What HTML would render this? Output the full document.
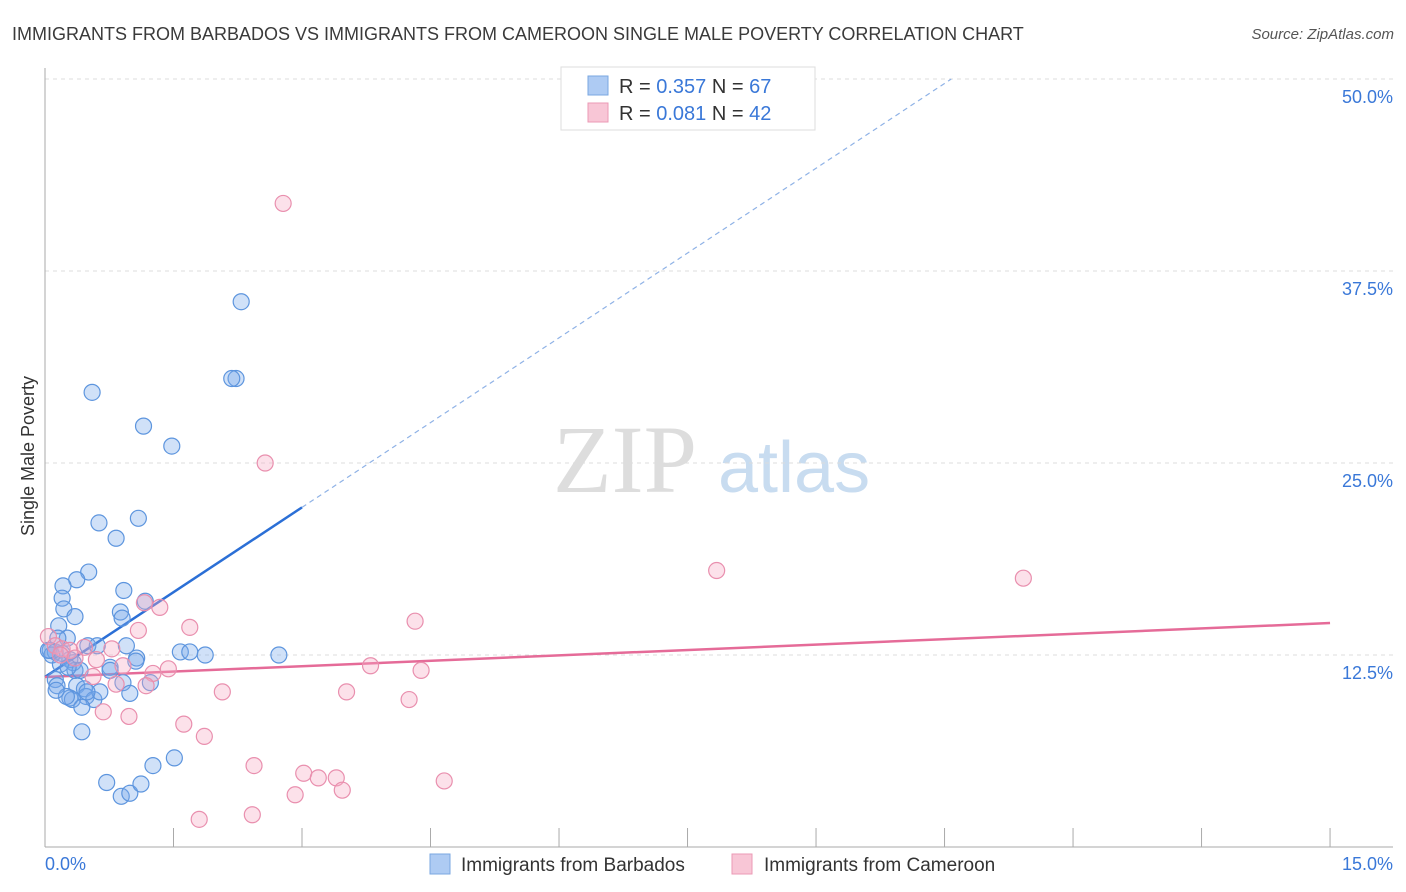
<!DOCTYPE html>
<html><head><meta charset="utf-8"><style>
body{margin:0;background:#fff;font-family:"Liberation Sans",sans-serif;}
svg{display:block}
</style></head><body>
<svg id="chart" width="1406" height="892">
<text x="12" y="40" font-size="18" fill="#3a3a3a">IMMIGRANTS FROM BARBADOS VS IMMIGRANTS FROM CAMEROON SINGLE MALE POVERTY CORRELATION CHART</text>
<text x="1394" y="39" font-size="15" fill="#555" font-style="italic" text-anchor="end">Source: ZipAtlas.com</text>
<text x="34" y="456" font-size="18" fill="#333" text-anchor="middle" transform="rotate(-90 34 456)">Single Male Poverty</text>
<g><text x="553" y="492" font-size="96" fill="#ddd" font-family="Liberation Serif,serif">ZIP</text><text x="718" y="492" font-size="72" fill="#c8dcf0">atlas</text></g>
<g id="grid"></g><g id="axes"></g><g id="lines"></g><g id="pts"></g>
<g>
<rect x="561" y="67" width="254" height="63" fill="#fff" stroke="#ddd"/>
<rect x="588" y="76" width="20" height="19" fill="#aecbf3" stroke="#7aa7e0"/>
<text x="619" y="93" font-size="20" fill="#333">R = <tspan fill="#3a78d8">0.357</tspan>   N = <tspan fill="#3a78d8">67</tspan></text>
<rect x="588" y="103" width="20" height="19" fill="#f8c6d6" stroke="#eb9ab5"/>
<text x="619" y="120" font-size="20" fill="#333">R = <tspan fill="#3a78d8">0.081</tspan>   N = <tspan fill="#3a78d8">42</tspan></text>
</g>
<g>
<rect x="430" y="854" width="20" height="20" fill="#aecbf3" stroke="#7aa7e0"/>
<text x="461" y="871" font-size="19" fill="#333">Immigrants from Barbados</text>
<rect x="732" y="854" width="20" height="20" fill="#f8c6d6" stroke="#eb9ab5"/>
<text x="764" y="871" font-size="19" fill="#333">Immigrants from Cameroon</text>
</g>
</svg>
<script>
const yTicks=[12.5,25,37.5,50];
const yTickLabels=["12.5%","25.0%","37.5%","50.0%"];
const xTickCount=10;
const blueX=[0.55,1.15,1.48,2.23,2.18,2.29,0.63,1.09,0.83,0.51,0.37,0.21,0.2,0.22,0.35,0.16,0.92,0.88,0.9,1.17,0.95,1.07,1.06,1.58,1.69,1.87,2.73,0.5,0.61,0.26,0.15,0.06,0.12,0.2,0.29,0.33,0.35,0.41,0.12,0.14,0.37,0.46,0.48,0.29,0.32,0.57,0.76,0.91,0.99,1.23,0.43,0.43,0.72,0.89,0.99,1.12,1.26,1.51,0.08,0.04,0.18,0.27,0.25,0.64,0.49,0.76,0.13];
const blueY=[29.6,27.4,26.1,30.5,30.5,35.5,21.1,21.4,20.1,17.9,17.4,17.0,16.2,15.5,15.0,14.4,16.7,15.3,14.9,16.0,13.1,12.3,12.1,12.7,12.7,12.5,12.5,13.1,13.1,13.6,13.6,12.8,12.7,12.6,12.2,12.0,11.5,11.5,10.9,10.5,10.5,10.3,9.8,9.7,9.6,9.6,11.7,10.7,10.0,10.7,9.1,7.5,4.2,3.3,3.5,4.1,5.3,5.8,12.5,12.8,11.9,11.7,9.8,10.1,10.1,11.5,10.2];
const pinkX=[2.78,2.57,7.84,11.42,1.16,1.34,4.32,1.69,1.09,0.78,0.46,0.6,0.91,1.26,1.44,3.8,4.39,0.56,0.83,1.18,2.07,3.52,4.25,0.68,0.98,1.62,1.86,2.44,3.02,3.19,3.4,3.47,2.92,4.66,2.42,1.8,0.04,0.12,0.2,0.29,0.18,0.35];
const pinkY=[41.9,25.0,18.0,17.5,15.9,15.6,14.7,14.3,14.1,12.9,13.0,12.2,11.8,11.3,11.6,11.8,11.5,11.1,10.6,10.5,10.1,10.1,9.6,8.8,8.5,8.0,7.2,5.3,4.8,4.5,4.5,3.7,3.4,4.3,2.1,1.8,13.7,13.1,12.9,12.8,12.5,12.3];
const blueTrend=[11.07,3.68];
const pinkTrend=[11.07,0.234];
const NS="http://www.w3.org/2000/svg";
const X=v=>45+v*85.67, Y=v=>847-v*15.36;
function mk(t,a,p){const e=document.createElementNS(NS,t);for(const k in a)e.setAttribute(k,a[k]);p.appendChild(e);return e;}
const grid=document.getElementById('grid'),axes=document.getElementById('axes'),lines=document.getElementById('lines'),pts=document.getElementById('pts');
yTicks.forEach((v,i)=>{
 const l=mk('line',{x1:45,x2:1393,y1:Y(v),y2:Y(v),stroke:'#ddd','stroke-dasharray':'4,4'},grid);
 
 
 const t=mk('text',{x:1393,y:Y(v)+24,'font-size':18,fill:'#3a78d8','text-anchor':'end'},axes);
 t.textContent=yTickLabels[i];
 
 
});
mk('line',{x1:45,x2:45,y1:68,y2:847,stroke:'#aaa'},axes);
mk('line',{x1:45,x2:1393,y1:847,y2:847,stroke:'#aaa'},axes);
for(let i=0;i<=xTickCount;i++){const x=X(i*1.5);mk('line',{x1:x,x2:x,y1:828,y2:847,stroke:'#aaa'},axes);}
let t=mk('text',{x:45,y:870,'font-size':18,fill:'#3a78d8'},axes);t.textContent='0.0%';


t=mk('text',{x:1393,y:870,'font-size':18,fill:'#3a78d8','text-anchor':'end'},axes);t.textContent='15.0%';


function dot(x,y,fill,stroke,name){const c=mk('circle',{cx:X(x),cy:Y(y),r:8,fill:fill,stroke:stroke,'stroke-width':1.2},pts);
 
 }
blueX.forEach((x,i)=>dot(x,blueY[i],'rgba(120,170,235,0.35)','#5d95de','barbados-point'));
pinkX.forEach((x,i)=>dot(x,pinkY[i],'rgba(245,170,195,0.35)','#e98fae','cameroon-point'));
const bEnd=(50-blueTrend[0])/blueTrend[1];
let l=mk('line',{x1:X(0),y1:Y(blueTrend[0]),x2:X(3),y2:Y(blueTrend[0]+3*blueTrend[1]),stroke:'#2b6fd6','stroke-width':2.5},lines);


l=mk('line',{x1:X(3),y1:Y(blueTrend[0]+3*blueTrend[1]),x2:X(bEnd),y2:Y(50),stroke:'#8fb2e6','stroke-width':1.2,'stroke-dasharray':'5,4'},lines);


l=mk('line',{x1:X(0),y1:Y(pinkTrend[0]),x2:X(15),y2:Y(pinkTrend[0]+15*pinkTrend[1]),stroke:'#e56b98','stroke-width':2.5},lines);


</script>
</body></html>
